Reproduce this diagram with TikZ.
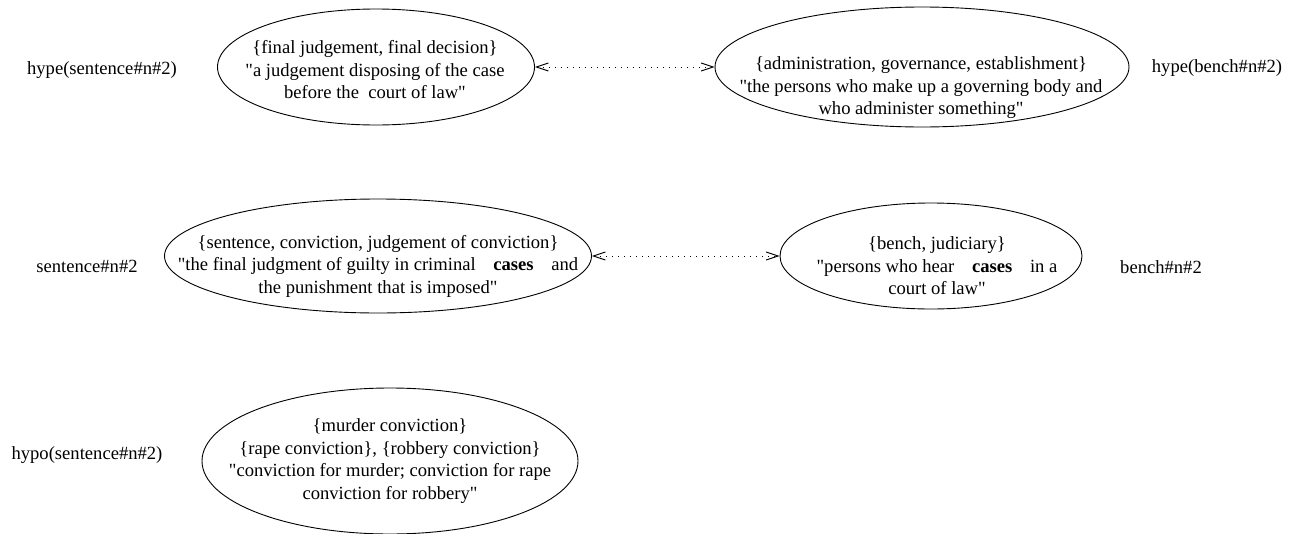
\documentclass[tikz,border=0pt]{standalone}
\usepackage{fontspec}
\setmainfont{Liberation Serif}
\usetikzlibrary{arrows.meta, positioning, shapes.geometric}
\newcommand{\qt}{\textquotedbl}
\newcommand{\gap}{\hspace{0.95em}}

\begin{document}
\begin{tikzpicture}[
  x=1pt, y=-1pt,
  sense/.style={ellipse, draw=black, line width=0.9pt, inner sep=0pt},
  gloss/.style={align=center, inner sep=0pt, font=\fontsize{18.6}{22.5}\selectfont},
  rel/.style={inner sep=0pt, font=\fontsize{18.6}{22.5}\selectfont},
  link/.style={{Straight Barb[length=12pt,width=8pt]}-{Straight Barb[length=12pt,width=8pt]},
               line width=0.9pt, dash pattern=on 1.2pt off 4.8pt}
]
\useasboundingbox (0,0) rectangle (1296,533);

% synsets
\node[sense, minimum width=317, minimum height=116] (final) at (376,67) {};
\node[sense, minimum width=414, minimum height=120] (admin) at (922,67) {};
\node[sense, minimum width=427, minimum height=114] (sent) at (378,256) {};
\node[sense, minimum width=302, minimum height=106] (bench) at (931,256) {};
\node[sense, minimum width=376, minimum height=146] (conv) at (390,461) {};

\node[gloss] (final-txt) at (375,70) {\{final judgement, final decision\}\\
  \qt a judgement disposing of the case\\before the\ \ court of law\qt};
\node[gloss] (admin-txt) at (921,88) {\{administration, governance, establishment\}\\
  \qt the persons who make up a governing body and\\who administer something\qt};
\node[gloss] (sent-txt) at (378,266) {\{sentence, conviction, judgement of conviction\}\\
  \qt the final judgment of guilty in criminal\gap\textbf{cases}\gap and\\the punishment that is imposed\qt};
\node[gloss] (bench-txt) at (937,266) {\{bench, judiciary\}\\
  \qt persons who hear\gap\textbf{cases}\gap in a\\court of law\qt};
\node[gloss] (conv-txt) at (390,461) {\{murder conviction\}\\
  \{rape conviction\}, \{robbery conviction\}\\
  \qt conviction for murder; conviction for rape\\conviction for robbery\qt};

% relation labels
\node[rel] (hype-sent) at (102,70) {hype(sentence\#n\#2)};
\node[rel] (hype-bench) at (1217,68) {hype(bench\#n\#2)};
\node[rel] (sent-lbl) at (87,266) {sentence\#n\#2};
\node[rel] (bench-lbl) at (1161,267) {bench\#n\#2};
\node[rel] (hypo-sent) at (87,455) {hypo(sentence\#n\#2)};

\draw[link] (final) -- (admin);
\draw[link] (sent) -- (bench);
\end{tikzpicture}
\end{document}
